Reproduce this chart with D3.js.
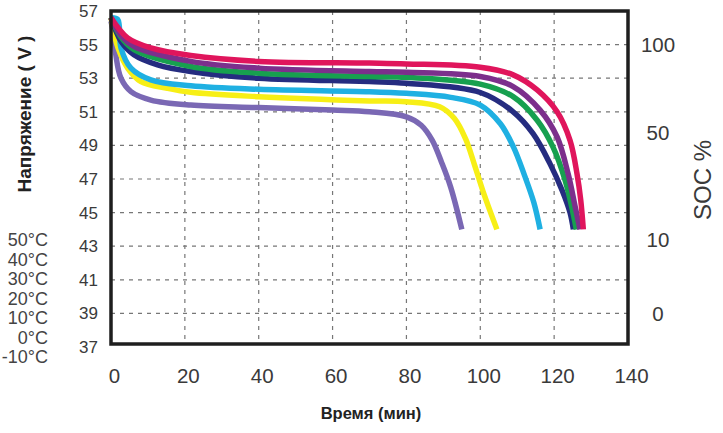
<!DOCTYPE html>
<html>
<head>
<meta charset="utf-8">
<script src="https://cdn.jsdelivr.net/npm/d3@7"></script>
<style>
body {margin:0; background:#fff;}
text {font-family:Arial, "Liberation Sans", sans-serif;}
</style>
</head>
<body>
<svg id="chart"></svg>
<script>

// temperatures, top curve first
var temps = ["50°C","40°C","30°C","20°C","10°C","0°C","-10°C"];
var colors = ["#e0155c","#7c2f8c","#17a04f","#252c80","#1fb0e2","#f7ef16","#7a68b4"];

var xTicks = [0,20,40,60,80,100,120,140];
var yTicks = [57,55,53,51,49,47,45,43,41,39,37];
var socTicks = [100,50,10,0];
var socVolt = [55,49.75,43.4,39];

// [time min, voltage V]
var t50 = [[0,56.6],[4.5,55.4],[10.8,54.8],[21.6,54.35],[40,54.0],[70,53.9],[80,53.85],[100,53.65],[108.9,53.2],[115.4,52.3],[120.8,51.0],[124.3,49.3],[126.2,47.3],[127.2,45.75],[127.9,44]];
var t40 = [[0,56.6],[2.5,55.6],[6.2,54.9],[21.6,54.0],[40,53.6],[70,53.4],[80,53.35],[100,53.1],[108.9,52.5],[116.2,51.1],[120.8,49.5],[123.8,47.3],[125.7,45.35],[127,44]];
var t30 = [[0,56.6],[2.5,55.5],[6.2,54.7],[21.6,53.7],[40,53.3],[70,53.1],[80,53.05],[100,52.65],[108.9,51.9],[115.4,50.5],[119.7,48.9],[123,46.9],[125.1,45.0],[126,44]];
var t20 = [[0,56.6],[2.7,55.2],[6.2,54.4],[12.6,53.8],[21.6,53.4],[40,53.0],[70,52.8],[80,52.7],[100,52.15],[108.9,51.0],[114.3,49.7],[118.9,47.9],[122.2,46.3],[124.3,45.0],[125.2,44]];
var t10 = [[0,56.6],[1.8,56.5],[2.7,54.8],[5.4,53.6],[10.8,52.9],[21.6,52.55],[40,52.34],[70,52.2],[80,52.1],[92,51.86],[100,51.4],[105.4,50.3],[109,48.9],[112,47.2],[114.5,45.6],[116.2,44]];
var t0 = [[0,56.6],[1.9,54.8],[4.5,53.6],[8.1,52.8],[15.3,52.4],[21.6,52.16],[40,51.9],[70,51.65],[80,51.6],[89,51.3],[93,50.6],[96,49.4],[98.5,47.8],[101,46.1],[104.5,44]];
var tm10 = [[0,56.4],[0.8,55.5],[1.3,54.4],[2.7,53.0],[5.4,52.2],[10.8,51.7],[21.6,51.4],[40,51.25],[60,51.1],[70,51.0],[80,50.7],[84,50.2],[87,49.3],[89.5,48.0],[92,46.5],[95,44]];

var curves = [t50,t40,t30,t20,t10,t0,tm10];

var screen = {width:723, height:433};
var box = {left:111, right:628, top:11, bottom:347};

var svg = d3.select("#chart")
    .attr("width",screen.width)
    .attr("height",screen.height);

var xScale = d3.scaleLinear()
    .domain([0,140])
    .range([box.left,box.right]);

var yScale = d3.scaleLinear()
    .domain([57,37])
    .range([box.top,box.bottom]);

// grid
var grid = svg.append("g");
grid.selectAll(".hg")
    .data(yTicks.filter(function(v){return v!=57 && v!=37;}))
    .enter().append("line")
    .attr("x1",box.left).attr("x2",box.right)
    .attr("y1",function(v){return yScale(v);})
    .attr("y2",function(v){return yScale(v);})
    .style("stroke","#777").style("stroke-width",1.2)
    .style("stroke-dasharray","4,5");
grid.selectAll(".vg")
    .data(xTicks.filter(function(v){return v!=0 && v!=140;}))
    .enter().append("line")
    .attr("y1",box.top).attr("y2",box.bottom-3)
    .attr("x1",function(v){return xScale(v);})
    .attr("x2",function(v){return xScale(v);})
    .style("stroke","#777").style("stroke-width",1.2)
    .style("stroke-dasharray","4,5");

// curves, bottom one drawn first
var line = d3.line()
    .x(function(d){return xScale(d[0]);})
    .y(function(d){return yScale(d[1]);})
    .curve(d3.curveCatmullRom.alpha(0.5));

for (var i = curves.length-1; i >= 0; i--)
{
    svg.append("path")
        .datum(curves[i])
        .attr("d",line)
        .style("fill","none")
        .style("stroke",colors[i])
        .style("stroke-width",5.5);
}

// frame
svg.append("rect")
    .attr("x",box.left).attr("y",box.top)
    .attr("width",box.right-box.left)
    .attr("height",box.bottom-3-box.top)
    .style("fill","none")
    .style("stroke","#1e1e1e")
    .style("stroke-width",3.5);

// axes labels
var xAxis = d3.axisBottom(xScale).tickValues(xTicks).tickSize(0).tickPadding(0);
var gx = svg.append("g")
    .attr("transform","translate(3,"+(box.bottom+21)+")")
    .call(xAxis);
gx.select(".domain").remove();
gx.selectAll("text").style("font-size","20.5px").style("fill","#3a3a3a");

var yAxis = d3.axisLeft(yScale).tickValues(yTicks).tickSize(0).tickPadding(13);
var gy = svg.append("g")
    .attr("transform","translate("+box.left+",0)")
    .call(yAxis);
gy.select(".domain").remove();
gy.selectAll("text").style("font-size","17px").style("fill","#3a3a3a");

svg.selectAll(".soc")
    .data(socTicks)
    .enter().append("text")
    .attr("x",658)
    .attr("y",function(d,i){return yScale(socVolt[i]);})
    .attr("dy","0.35em")
    .attr("text-anchor","middle")
    .style("font-size","20.5px").style("fill","#3a3a3a")
    .text(function(d){return d;});

// titles
svg.append("text")
    .attr("transform","translate(31,114) rotate(-90)")
    .attr("text-anchor","middle")
    .style("font-size","19px").style("font-weight","bold").style("fill","#222")
    .text("Напряжение ( V )");

svg.append("text")
    .attr("transform","translate(711,180) rotate(-90)")
    .attr("text-anchor","middle")
    .style("font-size","24px").style("fill","#3a3a3a")
    .text("SOC %");

svg.append("text")
    .attr("x",371).attr("y",419)
    .attr("text-anchor","middle")
    .style("font-size","16.5px").style("font-weight","bold").style("fill","#222")
    .text("Время (мин)");

// temperature list on the left
svg.selectAll(".temp")
    .data(temps)
    .enter().append("text")
    .attr("x",48)
    .attr("y",function(d,i){return 240+i*19.5;})
    .attr("dy","0.35em")
    .attr("text-anchor","end")
    .style("font-size","18px").style("fill","#444")
    .text(function(d){return d;});

</script>
</body>
</html>
